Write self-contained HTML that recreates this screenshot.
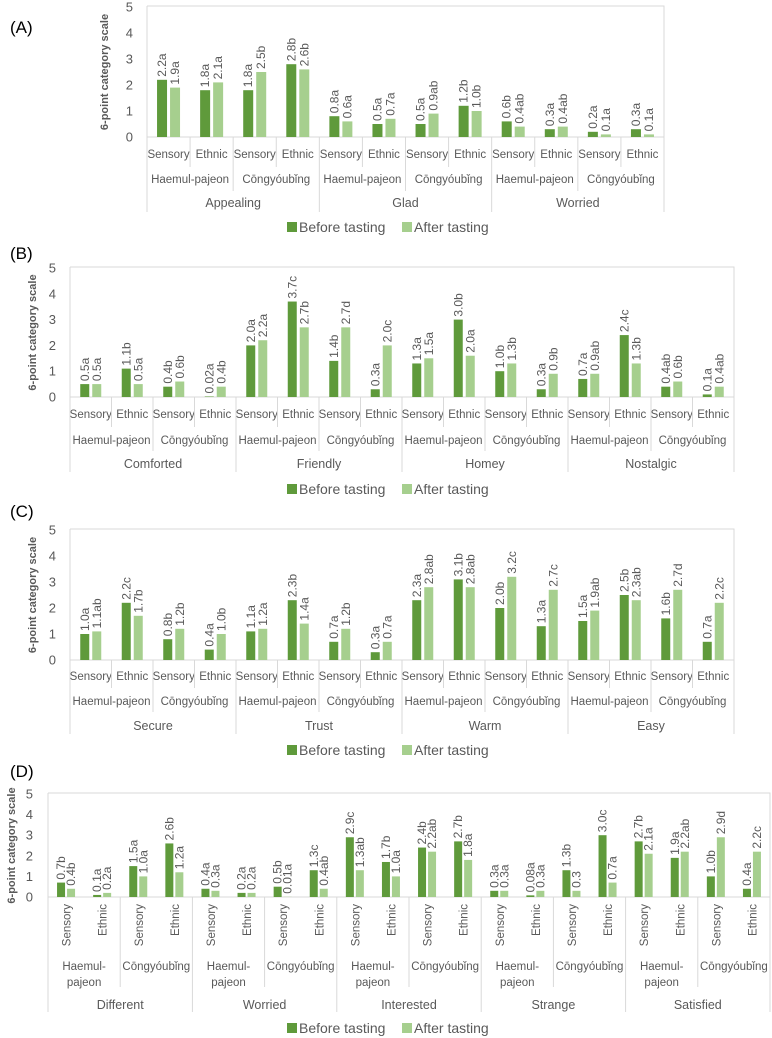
<!DOCTYPE html>
<html><head><meta charset="utf-8"><style>
body{margin:0;background:#fff;}
svg{display:block;font-family:"Liberation Sans",sans-serif;}
</style></head><body>
<svg id="chart" width="772" height="1038" viewBox="0 0 772 1038" xmlns="http://www.w3.org/2000/svg"></svg>
<script>
// ---- Data ----
const lvl1 = ["Sensory","Ethnic","Sensory","Ethnic"];
const lvl2 = ["Haemul-pajeon","Cōngyóubǐng"];
const groupsA = ["Appealing","Glad","Worried"];
const beforeA = [2.2,1.8,1.8,2.8, 0.8,0.5,0.5,1.2, 0.6,0.3,0.2,0.3];
const afterA  = [1.9,2.1,2.5,2.6, 0.6,0.7,0.9,1.0, 0.4,0.4,0.1,0.1];
const beforeLabA = ["2.2a","1.8a","1.8a","2.8b","0.8a","0.5a","0.5a","1.2b","0.6b","0.3a","0.2a","0.3a"];
const afterLabA  = ["1.9a","2.1a","2.5b","2.6b","0.6a","0.7a","0.9ab","1.0b","0.4ab","0.4ab","0.1a","0.1a"];

const groupsB = ["Comforted","Friendly","Homey","Nostalgic"];
const beforeB = [0.5,1.1,0.4,0.02, 2.0,3.7,1.4,0.3, 1.3,3.0,1.0,0.3, 0.7,2.4,0.4,0.1];
const afterB  = [0.5,0.5,0.6,0.4, 2.2,2.7,2.7,2.0, 1.5,1.6,1.3,0.9, 0.9,1.3,0.6,0.4];
const beforeLabB = ["0.5a","1.1b","0.4b","0.02a","2.0a","3.7c","1.4b","0.3a","1.3a","3.0b","1.0b","0.3a","0.7a","2.4c","0.4ab","0.1a"];
const afterLabB  = ["0.5a","0.5a","0.6b","0.4b","2.2a","2.7b","2.7d","2.0c","1.5a","2.0a","1.3b","0.9b","0.9ab","1.3b","0.6b","0.4ab"];

const groupsC = ["Secure","Trust","Warm","Easy"];
const beforeC = [1.0,2.2,0.8,0.4, 1.1,2.3,0.7,0.3, 2.3,3.1,2.0,1.3, 1.5,2.5,1.6,0.7];
const afterC  = [1.1,1.7,1.2,1.0, 1.2,1.4,1.2,0.7, 2.8,2.8,3.2,2.7, 1.9,2.3,2.7,2.2];
const beforeLabC = ["1.0a","2.2c","0.8b","0.4a","1.1a","2.3b","0.7a","0.3a","2.3a","3.1b","2.0b","1.3a","1.5a","2.5b","1.6b","0.7a"];
const afterLabC  = ["1.1ab","1.7b","1.2b","1.0b","1.2a","1.4a","1.2b","0.7a","2.8ab","2.8ab","3.2c","2.7c","1.9ab","2.3ab","2.7d","2.2c"];

const groupsD = ["Different","Worried","Interested","Strange","Satisfied"];
const beforeD = [0.7,0.1,1.5,2.6, 0.4,0.2,0.5,1.3, 2.9,1.7,2.4,2.7, 0.3,0.08,1.3,3.0, 2.7,1.9,1.0,0.4];
const afterD  = [0.4,0.2,1.0,1.2, 0.3,0.2,0.01,0.4, 1.3,1.0,2.2,1.8, 0.3,0.3,0.3,0.7, 2.1,2.2,2.9,2.2];
const beforeLabD = ["0.7b","0.1a","1.5a","2.6b","0.4a","0.2a","0.5b","1.3c","2.9c","1.7b","2.4b","2.7b","0.3a","0.08a","1.3b","3.0c","2.7b","1.9a","1.0b","0.4a"];
const afterLabD  = ["0.4b","0.2a","1.0a","1.2a","0.3a","0.2a","0.01a","0.4ab","1.3ab","1.0a","2.2ab","1.8a","0.3a","0.3a","0.3","0.7a","2.1a","2.2ab","2.9d","2.2c"];
const yTicks = [0,1,2,3,4,5];

const NS="http://www.w3.org/2000/svg";
const svg=document.getElementById('chart');
const C1="#5f9a3b", C2="#a6cf8e", TXT="#595959", LN="#d9d9d9";
function mk(tag,attrs,parent){const e=document.createElementNS(NS,tag);for(const k in attrs)e.setAttribute(k,attrs[k]);(parent||svg).appendChild(e);return e;}
function txt(s,x,y,size,parent,extra){const t=mk('text',Object.assign({x:x,y:y,'font-size':size,fill:TXT,'text-anchor':'middle'},extra||{}),parent);t.textContent=s;return t;}

function panel(P,groups,before,after,bLab,aLab){
  const g=mk('g',{});
  
  
  const n=before.length, cw=(P.right-P.left)/n;
  const yS=v=>P.y0-(P.y0-P.y5)*v/5;
  const lab=txt('('+P.id+')',P.labX,P.labY,17,g,{fill:'#000','text-anchor':'start'});
  
  
  const br=mk('path',{d:`M${P.left},${P.y5-1}H${P.right}V${P.y0}`,stroke:LN,fill:'none'},g);
  
  
  mk('line',{x1:P.left,x2:P.left,y1:P.y5-1,y2:P.sep3,stroke:LN},g);
  mk('line',{x1:P.left,x2:P.right,y1:P.y0,y2:P.y0,stroke:LN},g);
  yTicks.forEach(v=>{const t=txt(String(v),P.tickX,yS(v)+4.5,13,g,{'text-anchor':'end'});
    
    });
  const yt=txt('6-point category scale',0,0,11,g,{'font-weight':'bold',transform:`translate(${P.titleX},${(P.y0+P.y5)/2}) rotate(-90)`});
  
  
  for(let i=0;i<n;i++){
    const cx=P.left+cw*(i+0.5);
    const xb=cx-P.gap/2-P.bw, xa=cx+P.gap/2;
    const b=mk('rect',{x:xb,y:yS(before[i]),width:P.bw,height:P.y0-yS(before[i]),fill:C1},g);
    
    
    const a=mk('rect',{x:xa,y:yS(after[i]),width:P.bw,height:P.y0-yS(after[i]),fill:C2},g);
    
    
    const lb=txt(bLab[i],0,0,12,g,{'text-anchor':'start',transform:`translate(${xb+P.bw/2+4},${yS(before[i])-3}) rotate(-90)`});
    
    
    const la=txt(aLab[i],0,0,12,g,{'text-anchor':'start',transform:`translate(${xa+P.bw/2+4},${yS(after[i])-3}) rotate(-90)`});
    
    
    let t;
    if(P.rot){t=txt(lvl1[i%4],0,0,11.5,g,{'text-anchor':'end',transform:`translate(${cx+4.5},${P.row1}) rotate(-90)`});}
    else t=txt(lvl1[i%4],cx,P.row1,11.5,g);
    
    
    if(i>0){const s=(i%4==0)?P.sep3:(i%2==0?P.sep2:P.sep1);mk('line',{x1:P.left+cw*i,x2:P.left+cw*i,y1:P.y0,y2:s,stroke:LN},g);}
  }
  mk('line',{x1:P.right,x2:P.right,y1:P.y0,y2:P.sep3,stroke:LN},g);
  for(let j=0;j<n/2;j++){
    const cx=P.left+cw*(2*j+1);const name=lvl2[j%2];
    let t;
    if(P.rot && name==="Haemul-pajeon"){
      t=txt("Haemul-",cx,P.row2,11.5,g);
      const t2=txt("pajeon",cx,P.row2+16,11.5,g);
      
      
    } else t=txt(name,cx,P.row2,11.5,g);
    
    
  }
  groups.forEach((gn,k)=>{const t=txt(gn,P.left+cw*(4*k+2),P.row3,12.5,g);
    
    });
  const l1=mk('rect',{x:287,y:P.leg-10,width:10,height:10,fill:C1},g);
  
  
  const lt1=txt('Before tasting',299,P.leg,14,g,{'text-anchor':'start'});
  
  
  const l2=mk('rect',{x:402,y:P.leg-10,width:10,height:10,fill:C2},g);
  
  
  const lt2=txt('After tasting',414,P.leg,14,g,{'text-anchor':'start'});
  
  
}
panel({id:'A',labX:10,labY:33,left:147,right:664,y5:7,y0:137,tickX:133,titleX:108,bw:10,gap:3,
  row1:158,row2:183,row3:207,sep1:167,sep2:191,sep3:212,leg:232},groupsA,beforeA,afterA,beforeLabA,afterLabA);
panel({id:'B',labX:10,labY:259,left:70,right:734,y5:268,y0:397,tickX:56,titleX:36,bw:9,gap:3,
  row1:418,row2:444,row3:468,sep1:427,sep2:451,sep3:472,leg:494},groupsB,beforeB,afterB,beforeLabB,afterLabB);
panel({id:'C',labX:10,labY:517,left:70,right:734,y5:530,y0:660,tickX:56,titleX:36,bw:9,gap:3,
  row1:680,row2:705,row3:730,sep1:688,sep2:712,sep3:734,leg:755},groupsC,beforeC,afterC,beforeLabC,afterLabC);
panel({id:'D',labX:10,labY:777,left:48,right:770,y5:794,y0:897,tickX:33,titleX:15,bw:8,gap:2,rot:true,
  row1:904,row2:970,row3:1009,sep1:897,sep2:987,sep3:1012,leg:1033},groupsD,beforeD,afterD,beforeLabD,afterLabD);
</script>
</body></html>
